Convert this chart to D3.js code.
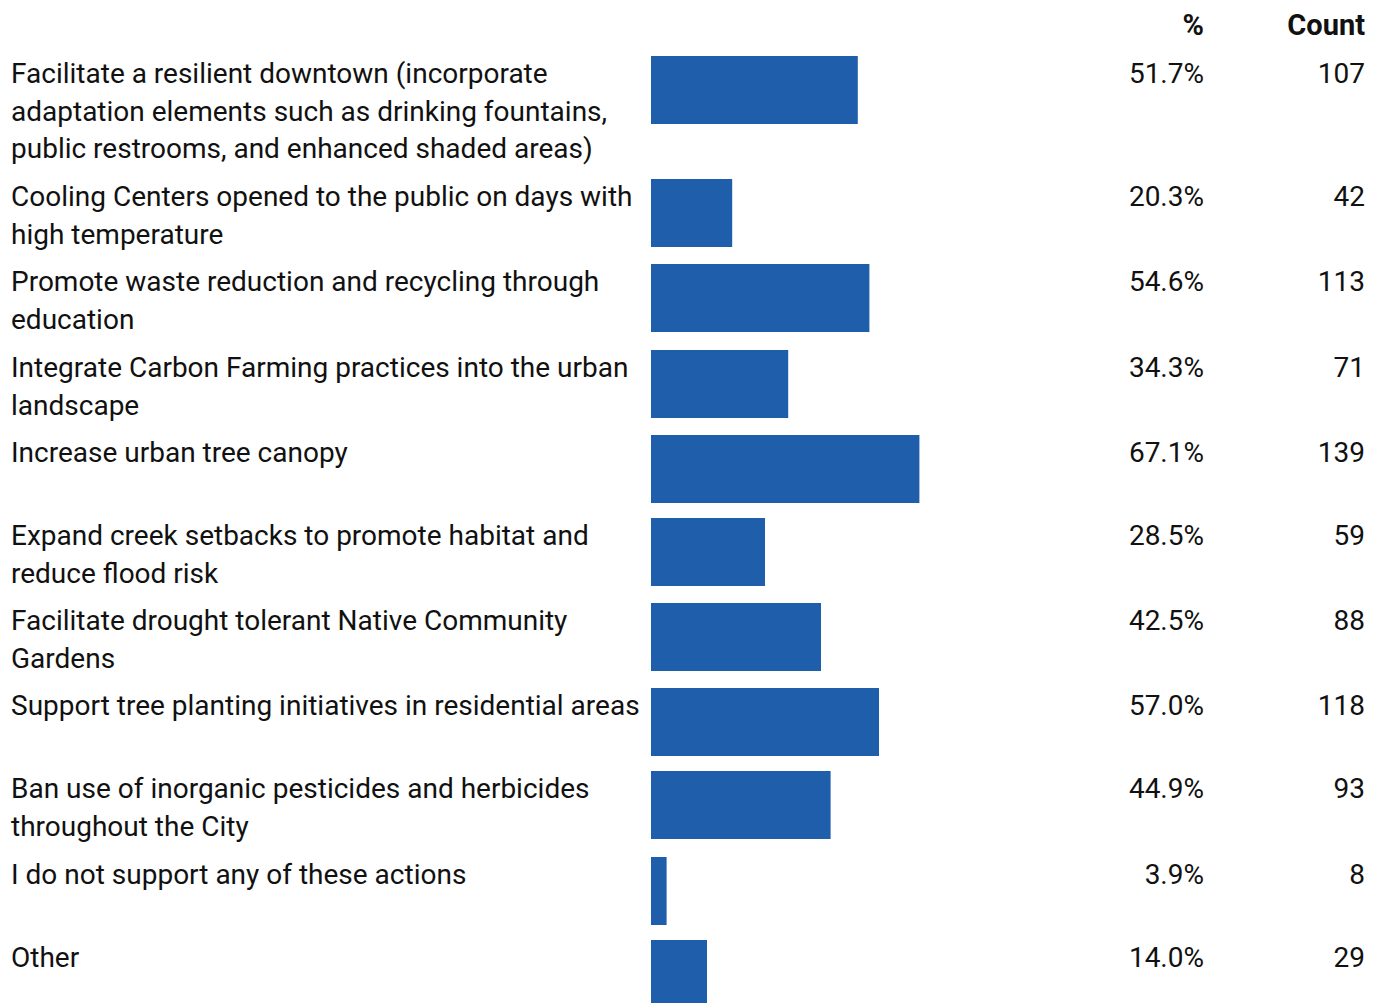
<!DOCTYPE html>
<html><head><meta charset="utf-8">
<script src="https://cdn.jsdelivr.net/npm/d3@7"></script>
<style>body{margin:0;background:#fff;} text{font-family:Roboto, "Noto Sans", sans-serif;}</style>
</head><body><svg id="c" width="1377" height="1003"></svg>
<script>
const labels = [
  ["Facilitate a resilient downtown (incorporate","adaptation elements such as drinking fountains,","public restrooms, and enhanced shaded areas)"],
  ["Cooling Centers opened to the public on days with","high temperature"],
  ["Promote waste reduction and recycling through","education"],
  ["Integrate Carbon Farming practices into the urban","landscape"],
  ["Increase urban tree canopy"],
  ["Expand creek setbacks to promote habitat and","reduce flood risk"],
  ["Facilitate drought tolerant Native Community","Gardens"],
  ["Support tree planting initiatives in residential areas"],
  ["Ban use of inorganic pesticides and herbicides","throughout the City"],
  ["I do not support any of these actions"],
  ["Other"]
];
const percents = [51.7, 20.3, 54.6, 34.3, 67.1, 28.5, 42.5, 57.0, 44.9, 3.9, 14.0];
const counts = [107, 42, 113, 71, 139, 59, 88, 118, 93, 8, 29];
const headers = ["%", "Count"];

const svg = d3.select("#c");
const fs = 28, lineH = 37.6, barH = 68;
const x = d3.scaleLinear().domain([0, 100]).range([651, 1051]);
const color = "#1e5eaa";

let y = 56;
const rows = labels.map((l, i) => {
  const h = Math.max(barH + 15, l.length * lineH + 10.1);
  const r = {i, top: Math.round(y), h};
  y += h;
  return r;
});

svg.append("text").attr("x", 1204).attr("y", 35).attr("text-anchor", "end")
  .attr("font-size", 29).attr("font-weight", "bold").attr("fill", "#111").text(headers[0]);
svg.append("text").attr("x", 1365).attr("y", 35).attr("text-anchor", "end")
  .attr("font-size", 29).attr("font-weight", "bold").attr("fill", "#111").text(headers[1]);

const g = svg.selectAll("g.row").data(rows).join("g").attr("class", "row");
g.append("rect").attr("x", x(0)).attr("y", d => d.top)
  .attr("width", d => x(percents[d.i]) - x(0)).attr("height", barH).attr("fill", color);
g.each(function(d) {
  const t = d3.select(this).append("text").attr("x", 11).attr("y", d.top + 27)
    .attr("font-size", fs).attr("fill", "#111");
  labels[d.i].forEach((ln, k) => t.append("tspan").attr("x", 11).attr("y", d.top + 27 + k * lineH).text(ln));
});
g.append("text").attr("x", 1204).attr("y", d => d.top + 27).attr("text-anchor", "end")
  .attr("font-size", fs).attr("fill", "#111").text(d => percents[d.i].toFixed(1) + "%");
g.append("text").attr("x", 1365).attr("y", d => d.top + 27).attr("text-anchor", "end")
  .attr("font-size", fs).attr("fill", "#111").text(d => counts[d.i]);
</script></body></html>
